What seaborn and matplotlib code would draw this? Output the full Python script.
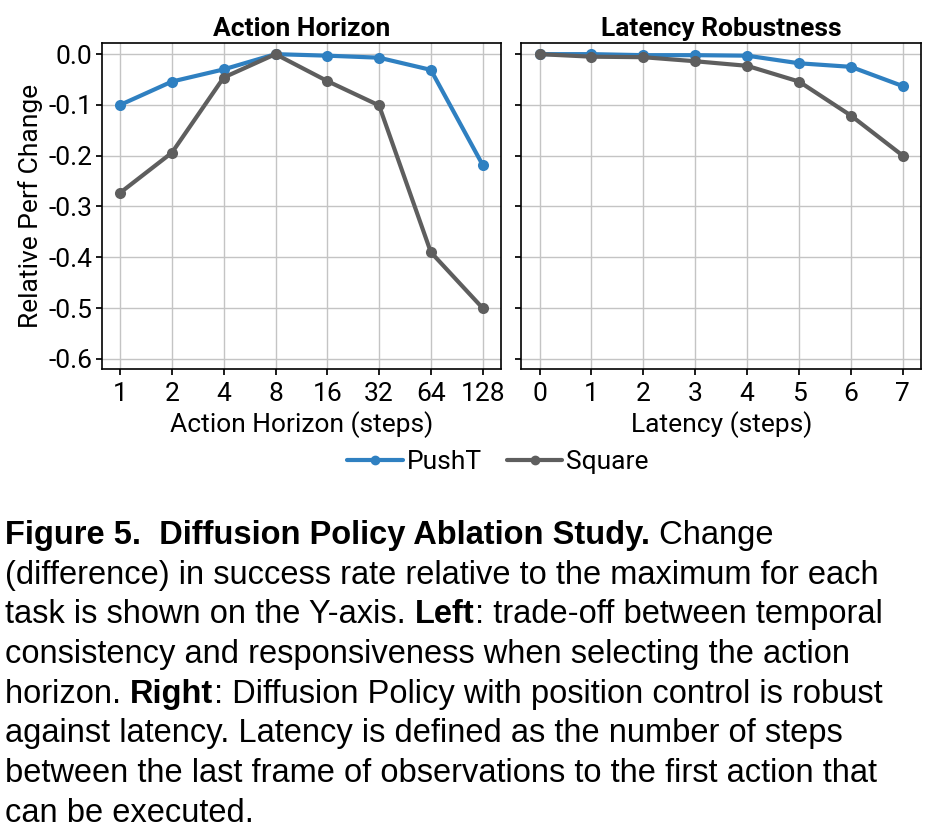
import pandas as pd
import seaborn as sns
import matplotlib.pyplot as plt

# ========== DATA ==========

horizon_labels = ["1", "2", "4", "8", "16", "32", "64", "128"]
horizon_pusht = [-0.100, -0.054, -0.030, 0.000, -0.003, -0.007, -0.031, -0.218]
horizon_square = [-0.273, -0.194, -0.046, 0.000, -0.053, -0.101, -0.390, -0.500]

latency_labels = ["0", "1", "2", "3", "4", "5", "6", "7"]
latency_pusht = [0.000, 0.000, -0.002, -0.002, -0.003, -0.018, -0.025, -0.063]
latency_square = [0.000, -0.005, -0.006, -0.014, -0.023, -0.054, -0.121, -0.200]

tasks = ["PushT", "Square"]
colors = {"PushT": "#2f80c1", "Square": "#5e5e5e"}

yticks = [0.0, -0.1, -0.2, -0.3, -0.4, -0.5, -0.6]

caption = [
    [("Figure 5.  Diffusion Policy Ablation Study.", "bold"), (" Change", "normal")],
    [("(difference) in success rate relative to the maximum for each", "normal")],
    [("task is shown on the Y-axis. ", "normal"), ("Left", "bold"),
     (": trade-off between temporal", "normal")],
    [("consistency and responsiveness when selecting the action", "normal")],
    [("horizon. ", "normal"), ("Right", "bold"),
     (": Diffusion Policy with position control is robust", "normal")],
    [("against latency. Latency is defined as the number of steps", "normal")],
    [("between the last frame of observations to the first action that", "normal")],
    [("can be executed.", "normal")],
]

# ========== SETUP ==========

sns.set_theme(style="whitegrid")
plt.rcParams["font.family"] = ["Roboto", "DejaVu Sans"]
plt.rcParams.update({
    "text.color": "black",
    "axes.labelcolor": "black",
    "axes.edgecolor": "black",
    "axes.linewidth": 1.2,
    "grid.color": "#c4c4c4",
    "grid.linewidth": 1.0,
    "xtick.bottom": True,
    "ytick.left": True,
    "xtick.major.size": 4,
    "ytick.major.size": 4,
    "xtick.color": "black",
    "ytick.color": "black",
})


def long_form(labels, pusht, square, xname):
    return pd.DataFrame({
        xname: labels * 2,
        "value": pusht + square,
        "task": ["PushT"] * len(labels) + ["Square"] * len(labels),
    })


df_h = long_form(horizon_labels, horizon_pusht, horizon_square, "horizon")
df_l = long_form(latency_labels, latency_pusht, latency_square, "latency")

fig = plt.figure(figsize=(9.36, 8.36), dpi=100)
ax1 = fig.add_axes([0.109, 0.5586, 0.426, 0.39])
ax2 = fig.add_axes([0.557, 0.5586, 0.427, 0.39], sharey=ax1)

line_kw = dict(hue="task", hue_order=tasks, palette=colors, marker="o",
               markersize=8, markeredgewidth=0, linewidth=3, legend=False)
sns.lineplot(data=df_h, x="horizon", y="value", ax=ax1, **line_kw)
sns.lineplot(data=df_l, x="latency", y="value", ax=ax2, **line_kw)

for ax, title, xlabel in [(ax1, "Action Horizon", "Action Horizon (steps)"),
                          (ax2, "Latency Robustness", "Latency (steps)")]:
    ax.set_title(title, fontsize=19, fontweight="bold", pad=5)
    ax.set_xlabel(xlabel, fontsize=19, labelpad=4)
    ax.set_ylim(-0.62, 0.022)
    ax.set_yticks(yticks)
    ax.tick_params(axis="y", labelsize=19, pad=3)
    ax.tick_params(axis="x", labelsize=19, pad=5)
    for s in ax.spines.values():
        s.set_color("black")
    ax.grid(True)

ax1.set_yticklabels([f"{t:.1f}" for t in yticks])
ax1.set_ylabel("Relative Perf Change", fontsize=19, labelpad=4)
ax2.set_ylabel("")
ax2.tick_params(labelleft=False)

# Legend below both panels
handles = [plt.Line2D([], [], color=colors[t], marker="o", markersize=6,
                      linewidth=3) for t in tasks]
fig.legend(handles, tasks, loc="center", bbox_to_anchor=(0.532, 0.447),
           ncol=2, frameon=False, fontsize=19, handlelength=2.1,
           handletextpad=0.15, columnspacing=0.95)

# ========== CAPTION ==========

renderer = fig.canvas.get_renderer()
y0 = 0.3595
step = 39.7 / 836
for i, parts in enumerate(caption):
    x = 5 / 936
    y = y0 - i * step
    for txt, weight in parts:
        t = fig.text(x, y, txt, fontsize=23.5, fontweight=weight, color="black",
                     family=["Liberation Sans", "DejaVu Sans"], va="center")
        bb = t.get_window_extent(renderer=renderer)
        x += bb.width / fig.bbox.width

fig.savefig("out.png", dpi=100)
